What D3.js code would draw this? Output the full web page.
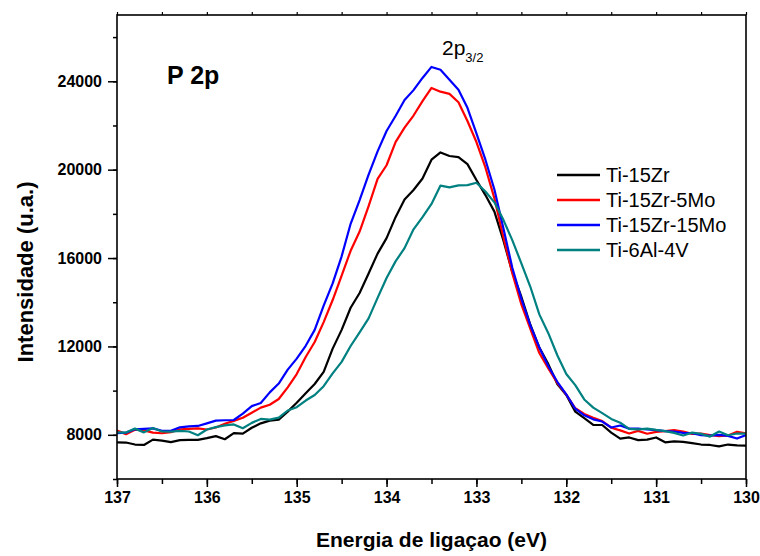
<!DOCTYPE html>
<html>
<head>
<meta charset="utf-8">
<script src="https://cdn.jsdelivr.net/npm/d3@7"></script>
<style>
  html, body { margin: 0; padding: 0; background: #fff; }
  svg { display: block; font-family: "Liberation Sans", Arial, sans-serif; }
</style>
</head>
<body>
<svg id="chart" width="760" height="556"></svg>
<script>
// ---------- DATA ----------
const energy = [137.0,136.9,136.8,136.7,136.6,136.5,136.4,136.3,136.2,136.1,
  136.0,135.9,135.8,135.7,135.6,135.5,135.4,135.3,135.2,135.1,
  135.0,134.9,134.8,134.7,134.6,134.5,134.4,134.3,134.2,134.1,
  134.0,133.9,133.8,133.7,133.6,133.5,133.4,133.3,133.2,133.1,
  133.0,132.9,132.8,132.7,132.6,132.5,132.4,132.3,132.2,132.1,
  132.0,131.9,131.8,131.7,131.6,131.5,131.4,131.3,131.2,131.1,
  131.0,130.9,130.8,130.7,130.6,130.5,130.4,130.3,130.2,130.1,130.0];

const ti15Zr = [7660,7650,7560,7540,7780,7740,7670,7760,7770,7770,
  7850,7940,7800,8080,8050,8320,8520,8640,8690,9050,
  9450,9880,10300,10850,11900,12750,13750,14420,15300,16200,
  16900,17850,18650,19080,19600,20450,20780,20620,20570,20250,
  19530,18850,18100,16800,15350,14250,12980,11950,11200,10300,
  9800,9050,8750,8450,8445,8100,7830,7880,7760,7780,
  7880,7660,7700,7680,7620,7560,7540,7480,7560,7520,7510];

const ti15Zr5Mo = [8190,8030,8230,8200,8100,8070,8120,8250,8270,8290,
  8240,8330,8500,8630,8770,9000,9230,9360,9620,10150,
  10750,11520,12200,13100,14100,15200,16330,17200,18350,19580,
  20200,21250,21900,22450,23100,23700,23530,23430,23050,22200,
  21250,20100,18700,16950,15300,13900,12800,11700,11000,10350,
  9820,9200,8940,8770,8620,8320,8200,8060,8180,8050,
  8130,8170,8210,8150,8040,8050,7990,7940,7970,8140,8070];

const ti15Zr15Mo = [8070,8100,8250,8270,8290,8180,8180,8340,8380,8400,
  8520,8640,8660,8670,8960,9300,9440,9920,10320,10950,
  11450,12030,12750,13850,14850,16080,17550,18625,19780,20830,
  21750,22430,23150,23600,24150,24650,24520,24070,23620,22800,
  21640,20450,19100,17350,15550,14150,12950,11950,11100,10400,
  9830,9180,8880,8700,8600,8330,8420,8280,8280,8240,
  8210,8170,8150,8090,8070,7980,7960,8000,7950,7830,7990];

const ti6Al4V = [8110,8100,8280,8110,8310,8150,8140,8180,8150,7980,
  8240,8350,8430,8470,8300,8540,8720,8690,8780,9100,
  9250,9550,9800,10200,10780,11300,12020,12640,13270,14200,
  15100,15850,16450,17300,17850,18450,19280,19200,19290,19300,
  19410,19010,18520,17730,16800,15760,14700,13450,12600,11600,
  10750,10250,9600,9230,8980,8720,8550,8270,8250,8280,
  8220,8170,8090,7970,8100,8040,7920,8150,7980,8060,8050];

const seriesNames = ["Ti-15Zr", "Ti-15Zr-5Mo", "Ti-15Zr-15Mo", "Ti-6Al-4V"];
const seriesValues = [ti15Zr, ti15Zr5Mo, ti15Zr15Mo, ti6Al4V];
const seriesColors = ["#000000", "#ff0000", "#0000ff", "#008080"];

const xTicks = [137, 136, 135, 134, 133, 132, 131, 130];
const yTicks = [8000, 12000, 16000, 20000, 24000];

// ---------- LAYOUT ----------
const svg = d3.select("#chart");
const L = 117, R = 746, T = 15, B = 479;

const x = d3.scaleLinear().domain([137, 130]).range([L, R]);
const y = d3.scaleLinear().domain([6000, 27000]).range([B, T]);

// clip
svg.append("defs").append("clipPath").attr("id", "clip")
  .append("rect").attr("x", L).attr("y", T).attr("width", R - L).attr("height", B - T);

// lines
const line = d3.line().x(d => x(d[0])).y(d => y(d[1]));
const g = svg.append("g").attr("clip-path", "url(#clip)");
seriesValues.forEach((vals, i) => {
  g.append("path")
    .datum(energy.map((e, k) => [e, vals[k]]))
    .attr("d", line)
    .attr("fill", "none")
    .attr("stroke", seriesColors[i])
    .attr("stroke-width", 2.2)
    .attr("stroke-linejoin", "round");
});

// frame
svg.append("rect").attr("x", L).attr("y", T).attr("width", R - L).attr("height", B - T)
  .attr("fill", "none").attr("stroke", "#000").attr("stroke-width", 1.6);

// bottom axis
const xMinor = d3.range(137, 129.9, -0.5);
const xAxisMinor = d3.axisBottom(x).tickValues(xMinor).tickSize(5).tickFormat("");
svg.append("g").attr("transform", `translate(0,${B})`).call(xAxisMinor)
  .call(s => s.select(".domain").remove())
  .call(s => s.selectAll("line").attr("stroke-width", 1.5));
const xAxis = d3.axisBottom(x).tickValues(xTicks).tickSize(8).tickPadding(5).tickFormat(d3.format("d"));
svg.append("g").attr("transform", `translate(0,${B})`).call(xAxis)
  .call(s => s.select(".domain").remove())
  .call(s => s.selectAll("line").attr("stroke-width", 1.5))
  .call(s => s.selectAll("text").attr("font-size", 16).attr("font-weight", "bold")
    .attr("font-family", "Liberation Sans, Arial, sans-serif").attr("fill", "#000"));

// top axis small ticks
const xAxisTop = d3.axisTop(x).tickValues(xMinor).tickSize(3).tickFormat("");
svg.append("g").attr("transform", `translate(0,${T})`).call(xAxisTop)
  .call(s => s.select(".domain").remove())
  .call(s => s.selectAll("line").attr("stroke-width", 1.2));

// left axis
const yMinor = d3.range(6000, 27001, 2000);
const yAxisMinor = d3.axisLeft(y).tickValues(yMinor).tickSize(4).tickFormat("");
svg.append("g").attr("transform", `translate(${L},0)`).call(yAxisMinor)
  .call(s => s.select(".domain").remove())
  .call(s => s.selectAll("line").attr("stroke-width", 1.5));
const yAxis = d3.axisLeft(y).tickValues(yTicks).tickSize(9).tickPadding(6).tickFormat(d3.format("d"));
svg.append("g").attr("transform", `translate(${L},0)`).call(yAxis)
  .call(s => s.select(".domain").remove())
  .call(s => s.selectAll("line").attr("stroke-width", 1.5))
  .call(s => s.selectAll("text").attr("font-size", 16).attr("font-weight", "bold")
    .attr("font-family", "Liberation Sans, Arial, sans-serif").attr("fill", "#000"));

// axis titles
svg.append("text").attr("x", (L + R) / 2).attr("y", 547)
  .attr("text-anchor", "middle").attr("font-size", 21).attr("font-weight", "bold")
  .text("Energia de ligaçao (eV)");
svg.append("text").attr("transform", "translate(33,272) rotate(-90)")
  .attr("text-anchor", "middle").attr("font-size", 22).attr("font-weight", "bold")
  .text("Intensidade (u.a.)");

// annotations
svg.append("text").attr("x", 167).attr("y", 84)
  .attr("font-size", 25).attr("font-weight", "bold").text("P 2p");
const ann = svg.append("text").attr("x", 442).attr("y", 55).attr("font-size", 21);
ann.append("tspan").text("2p");
ann.append("tspan").attr("font-size", 13).attr("dy", 7).text("3/2");

// legend
const leg = svg.append("g");
seriesNames.forEach((name, i) => {
  const ly = 175 + i * 25;
  leg.append("line").attr("x1", 557).attr("x2", 600).attr("y1", ly).attr("y2", ly)
    .attr("stroke", seriesColors[i]).attr("stroke-width", 2.5);
  leg.append("text").attr("x", 606).attr("y", ly + 7).attr("font-size", 20).text(name);
});
</script>
</body>
</html>
